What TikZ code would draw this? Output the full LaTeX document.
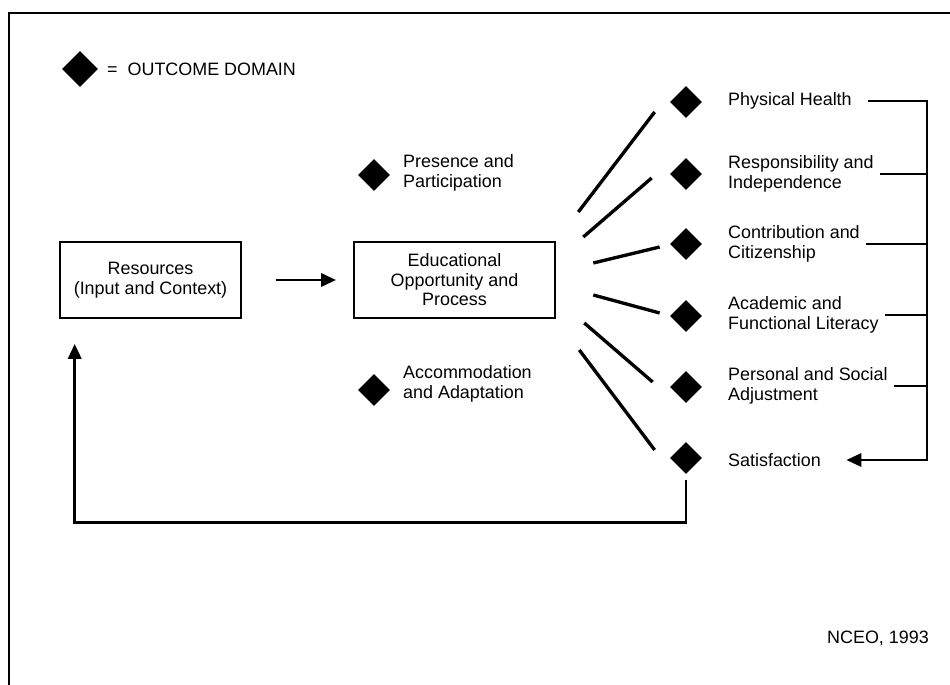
\documentclass[tikz,border=0pt]{standalone}
\usepackage{fontspec}
\setmainfont{Liberation Sans}
\usetikzlibrary{shapes.geometric,arrows.meta,calc}

\begin{document}
\begin{tikzpicture}[
    x=0.02cm, y=-0.02cm,
    every node/.style={font=\fontsize{10.2pt}{11.1pt}\selectfont},
    stage/.style={rectangle, draw, line width=1.5pt, align=center, minimum height=1.52cm},
    outcome/.style={diamond, fill=black, inner sep=0pt, minimum width=0.64cm, minimum height=0.64cm},
    outtext/.style={anchor=west, align=left},
    arrow/.style={-{Triangle[length=8.5pt,width=7.5pt]}, line width=1.6pt},
    fan/.style={line width=1.9pt},
    bus/.style={line width=1.4pt}
]
\useasboundingbox (0,0) rectangle (950,685);

% Cadre
\draw[line width=1pt] (9,685) -- (9,13) -- (950,13);

% Legende
\node[outcome, minimum width=0.72cm, minimum height=0.72cm] (key) at (80,69) {};
\node[outtext] (keyt) at (101,69) {=\ \ OUTCOME DOMAIN};

% Etapes (ligne du milieu)
\node[stage, minimum width=3.62cm] (res) at (150.5,280) {Resources\\(Input and Context)};
\node[stage, minimum width=4.02cm] (edu) at (454.5,280) {Educational\\Opportunity and\\Process};

% Domaines du processus
\node[outcome] (pp) at (374,175) {};
\node[outtext] (ppt) at (397,173) {Presence and\\Participation};
\node[outcome] (aa) at (374,390) {};
\node[outtext] (aat) at (397,384) {Accommodation\\and Adaptation};

% Domaines de resultat (colonne de droite)
\node[outcome] (ph) at (686,102) {};
\node[outtext] (pht) at (722,101) {Physical Health};
\node[outcome] (ri) at (686,174) {};
\node[outtext] (rit) at (722,174) {Responsibility and\\Independence};
\node[outcome] (cc) at (686,244) {};
\node[outtext] (cct) at (722,244) {Contribution and\\Citizenship};
\node[outcome] (af) at (686,316) {};
\node[outtext] (aft) at (722,315) {Academic and\\Functional Literacy};
\node[outcome] (ps) at (686,387) {};
\node[outtext] (pst) at (722,386) {Personal and Social\\Adjustment};
\node[outcome] (sa) at (686,458) {};
\node[outtext] (sat) at (722,460) {Satisfaction};

% Source
\node (src) at (878,638) {NCEO, 1993};

% Fleches principales
\draw[arrow, shorten <=19pt, shorten >=9.5pt] (res) -- (edu);
\draw[arrow, shorten <=3pt, shorten >=14pt] (sa.south) -- ++(0,48) -| ($(res.south west)+(16,0)$);

% Eventail vers les resultats
\foreach \n/\sx/\sy/\ex/\ey in {ph/22/-68/-15/10, ri/27/-43/-18/4, cc/37/-17/-10/3,
                                af/37/15/-10/-3, ps/28/43/-17/-5, sa/23/70/-15/-8}{
  \coordinate (\n-a) at ($(edu.east)+(\sx,\sy)$);
  \coordinate (\n-b) at ($(\n.west)+(\ex,\ey)$);
  \draw[fan] (\n-a) -- (\n-b);
}

% Retour des resultats vers la satisfaction
\coordinate (busx) at (927,0);
\draw[bus, -{Triangle[length=8.5pt,width=7.5pt]}, shorten <=6pt, shorten >=11pt]
    (pht.east) -- (pht.east -| busx) -- (sat.east -| busx) -- (sat.east);
\foreach \n in {rit, cct, aft, pst}
  \draw[bus] (\n.east) -- (\n.east -| busx);

\end{tikzpicture}
\end{document}
